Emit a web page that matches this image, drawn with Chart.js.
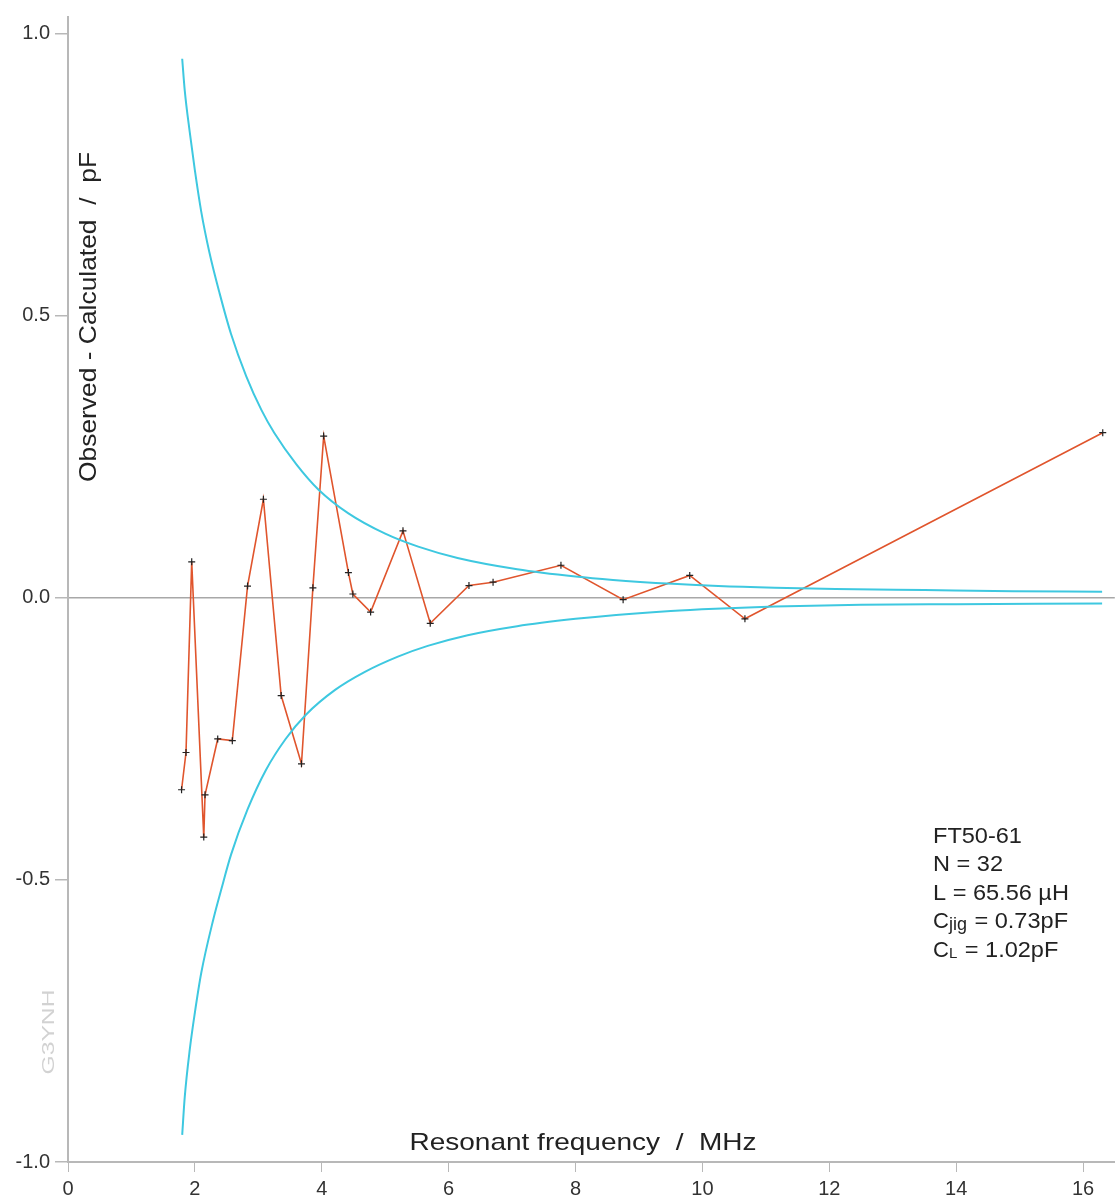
<!DOCTYPE html>
<html>
<head>
<meta charset="utf-8">
<script src="https://cdn.jsdelivr.net/npm/chart.js@4/dist/chart.umd.min.js"></script>
<style>
  html, body { margin: 0; padding: 0; background: #fff; }
  #wrap { width: 1120px; height: 1198px; }
</style>
</head>
<body>
<div id="wrap"><canvas id="chart" width="1120" height="1198"></canvas></div>
<script>
// Measured points: resonant frequency (MHz) and observed - calculated (pF)
const freqMHz = [1.79, 1.86, 1.95, 2.14, 2.16, 2.36, 2.59, 2.83, 3.08, 3.36, 3.68, 3.86, 4.03,
    4.42, 4.49, 4.77, 5.28, 5.71, 6.32, 6.70, 7.77, 8.75, 9.80, 10.67, 16.31];
const residualPF = [-0.340, -0.274, 0.064, -0.424, -0.349, -0.250, -0.253, 0.021, 0.175, -0.173, -0.294, 0.018, 0.287,
    0.045, 0.007, -0.025, 0.119, -0.045, 0.022, 0.028, 0.058, -0.003, 0.040, -0.037, 0.293];

// Upper / lower error envelope
const upperF = [1.80, 1.84, 1.92, 2.00, 2.10, 2.23, 2.39, 2.57, 2.81, 3.05, 3.25, 3.60, 3.95, 4.42, 5.00,
    5.52, 6.14, 7.08, 8.00, 8.59, 9.53, 10.25, 11.14, 12.1, 13.5, 14.9, 16.3];
const upperV = [0.956, 0.900, 0.825, 0.758, 0.685, 0.612, 0.540, 0.468, 0.393, 0.333, 0.293, 0.237, 0.192, 0.150, 0.114,
    0.091, 0.071, 0.051, 0.038, 0.032, 0.025, 0.021, 0.018, 0.016, 0.014, 0.012, 0.011];
const lowerF = [1.80, 1.84, 1.92, 2.00, 2.10, 2.29, 2.42, 2.57, 2.83, 3.12, 3.43, 3.75, 4.21, 4.68, 5.20,
    5.67, 6.30, 7.08, 8.00, 8.64, 9.50, 10.2, 11.14, 12.5, 14.0, 16.3];
const lowerV = [-0.952, -0.885, -0.800, -0.735, -0.665, -0.570, -0.515, -0.455, -0.375, -0.305, -0.250, -0.207, -0.163, -0.131, -0.104,
    -0.085, -0.066, -0.050, -0.037, -0.030, -0.023, -0.019, -0.015, -0.012, -0.011, -0.010];

const xTicks = [0, 2, 4, 6, 8, 10, 12, 14, 16];
const yTicks = [-1.0, -0.5, 0.0, 0.5, 1.0];

const infoLines = ['FT50-61', 'N = 32', 'L = 65.56 \u00b5H'];

function pts(xs, ys) {
    return xs.map((x, i) => ({ x: x, y: ys[i] }));
}

const FONT = '"Liberation Sans", Arial, sans-serif';
const AXIS_GREY = '#b8b8b8';
const CYAN = '#3ec8e0';

// draw text squeezed/stretched horizontally to a given width
function stretchText(ctx, text, x, y, width, align) {
    const w = ctx.measureText(text).width;
    const sx = width / w;
    ctx.save();
    ctx.translate(x, y);
    ctx.scale(sx, 1);
    ctx.textAlign = align || 'center';
    ctx.fillText(text, 0, 0);
    ctx.restore();
}

const labelsPlugin = {
    id: 'labels',
    afterDraw(chart) {
        const ctx = chart.ctx;
        ctx.save();
        ctx.textBaseline = 'alphabetic';
        ctx.fillStyle = '#222';

        // x axis title
        ctx.font = '24px ' + FONT;
        stretchText(ctx, 'Resonant frequency  /  MHz', 583, 1150, 347);

        // y axis title
        ctx.save();
        ctx.translate(96, 317);
        ctx.rotate(-Math.PI / 2);
        stretchText(ctx, 'Observed - Calculated  /  pF', 0, 0, 330);
        ctx.restore();

        // watermark
        ctx.save();
        ctx.fillStyle = '#d2d2d2';
        ctx.font = '17px ' + FONT;
        ctx.translate(54, 1032);
        ctx.rotate(-Math.PI / 2);
        stretchText(ctx, 'G3YNH', 0, 0, 85);
        ctx.restore();

        // info block
        ctx.font = '22px ' + FONT;
        ctx.textAlign = 'left';
        const left = 933, top = 843, step = 28.4;
        infoLines.forEach((t, i) => {
            const w = ctx.measureText(t).width * 1.07;
            stretchText(ctx, t, left, top + i * step, w, 'left');
        });
        // C with subscripts
        function subLine(sub, subSize, subDrop, rest, y) {
            let x = left;
            ctx.font = '22px ' + FONT;
            ctx.fillText('C', x, y);
            x += ctx.measureText('C').width;
            ctx.font = subSize + 'px ' + FONT;
            ctx.fillText(sub, x, y + subDrop);
            x += ctx.measureText(sub).width + 1;
            ctx.font = '22px ' + FONT;
            const w = ctx.measureText(rest).width * 1.07;
            stretchText(ctx, rest, x, y, w, 'left');
        }
        subLine('jig', 18, 2, ' = 0.73pF', top + 3 * step);
        subLine('L', 15, 1, ' = 1.02pF', top + 4 * step);
        ctx.restore();
    }
};

new Chart(document.getElementById('chart'), {
    type: 'scatter',
    data: {
        datasets: [
            {
                label: 'upper',
                data: pts(upperF, upperV),
                showLine: true,
                borderColor: CYAN,
                borderWidth: 2,
                pointRadius: 0,
                cubicInterpolationMode: 'monotone'
            },
            {
                label: 'lower',
                data: pts(lowerF, lowerV),
                showLine: true,
                borderColor: CYAN,
                borderWidth: 2,
                pointRadius: 0,
                cubicInterpolationMode: 'monotone'
            },
            {
                label: 'residual',
                data: pts(freqMHz, residualPF),
                showLine: true,
                borderColor: '#e0552d',
                borderWidth: 1.6,
                pointStyle: 'cross',
                pointRadius: 3.5,
                pointBorderColor: '#222',
                pointBorderWidth: 1.2
            }
        ]
    },
    options: {
        responsive: false,
        animation: false,
        devicePixelRatio: 1,
        layout: { padding: { top: 12, right: 0, left: 0, bottom: 0 } },
        plugins: {
            legend: { display: false },
            tooltip: { enabled: false }
        },
        scales: {
            x: {
                type: 'linear',
                min: 0,
                max: 16.5,
                afterFit: s => { s.height = 36; },
                afterBuildTicks: s => { s.ticks = xTicks.map(v => ({ value: v })); },
                border: { display: true, color: AXIS_GREY, width: 2 },
                grid: {
                    drawOnChartArea: false,
                    drawTicks: true,
                    tickLength: 10,
                    tickColor: AXIS_GREY,
                    color: AXIS_GREY
                },
                ticks: {
                    color: '#333',
                    padding: 5,
                    maxRotation: 0,
                    font: { family: FONT, size: 20 },
                    callback: v => String(v)
                }
            },
            y: {
                type: 'linear',
                min: -1,
                max: 1.03,
                afterFit: s => { s.width = 68; },
                afterBuildTicks: s => { s.ticks = yTicks.map(v => ({ value: v })); },
                border: { display: true, color: AXIS_GREY, width: 2 },
                grid: {
                    drawOnChartArea: true,
                    drawTicks: true,
                    tickLength: 13,
                    tickColor: AXIS_GREY,
                    color: ctx => (ctx.tick && ctx.tick.value === 0 ? '#a8a8a8' : 'rgba(0,0,0,0)'),
                    lineWidth: 1.5
                },
                ticks: {
                    color: '#333',
                    padding: 5,
                    font: { family: FONT, size: 20 },
                    callback: v => v.toFixed(1)
                }
            }
        }
    },
    plugins: [labelsPlugin]
});
</script>
</body>
</html>
